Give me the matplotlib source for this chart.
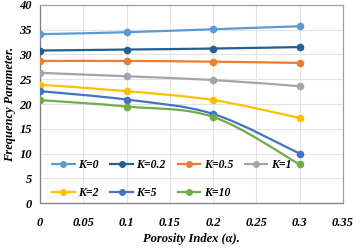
import numpy as np
import matplotlib
matplotlib.use("Agg")
import matplotlib.pyplot as plt
from matplotlib.path import Path
from matplotlib.patches import PathPatch
from matplotlib.lines import Line2D

# data
porosity = [0, 0.1, 0.2, 0.3]
k_labels = ['K=0', 'K=0.2', 'K=0.5', 'K=1', 'K=2', 'K=5', 'K=10']
k0 = [34.1, 34.5, 35.1, 35.7]
k02 = [30.8, 31.0, 31.2, 31.5]
k05 = [28.7, 28.7, 28.55, 28.3]
k1 = [26.3, 25.6, 24.85, 23.6]
k2 = [23.9, 22.6, 20.8, 17.2]
k5 = [22.6, 20.9, 18.0, 10.0]
k10 = [20.8, 19.5, 17.4, 7.8]
series = [k0, k02, k05, k1, k2, k5, k10]
colors = ['#5B9BD5', '#255E91', '#ED7D31', '#A5A5A5', '#FFC000', '#4472C4', '#70AD47']

font = {'family': 'Liberation Serif', 'weight': 'bold', 'style': 'italic'}


def smooth_path(x, y):
    # Excel style smoothed line: cubic bezier through the points
    x = np.asarray(x, float)
    y = np.asarray(y, float)
    n = len(x)
    verts = [(x[0], y[0])]
    codes = [Path.MOVETO]
    for i in range(n - 1):
        x0, y0 = (x[i - 1], y[i - 1]) if i > 0 else (x[i], y[i])
        x3, y3 = (x[i + 2], y[i + 2]) if i + 2 < n else (x[i + 1], y[i + 1])
        c1 = (x[i] + (x[i + 1] - x0) / 6, y[i] + (y[i + 1] - y0) / 6)
        c2 = (x[i + 1] - (x3 - x[i]) / 6, y[i + 1] - (y3 - y[i]) / 6)
        verts += [c1, c2, (x[i + 1], y[i + 1])]
        codes += [Path.CURVE4] * 3
    return Path(verts, codes)


fig = plt.figure(figsize=(3.61, 2.48), dpi=100)
ax = fig.add_axes([0.111, 0.181, 0.839, 0.799])

for vals, c in zip(series, colors):
    ax.add_patch(PathPatch(smooth_path(porosity, vals), facecolor='none',
                           edgecolor=c, lw=1.6, zorder=3))
    ax.plot(porosity, vals, ls='none', marker='o', ms=4.5, color=c, zorder=4)

ax.set_xlim(0, 0.35)
ax.set_ylim(0, 40)
ax.set_xticks(np.arange(0, 0.351, 0.05))
ax.set_xticklabels(['0', '0.05', '0.1', '0.15', '0.2', '0.25', '0.3', '0.35'])
ax.set_yticks(range(0, 41, 5))
for lab in ax.get_xticklabels() + ax.get_yticklabels():
    lab.set_fontproperties(font)
    lab.set_fontsize(9)
ax.tick_params(length=0, pad=10)
ax.tick_params(axis='y', pad=6)
ax.grid(color='#E4E4E4', lw=0.8)
ax.set_axisbelow(True)
for s in ax.spines.values():
    s.set_color('#A0A0A0')
    s.set_linewidth(0.9)
ax.spines['left'].set_color('#7F7F7F')
ax.spines['bottom'].set_color('#7F7F7F')

ax.set_xlabel('Porosity Index (α).', fontsize=9, labelpad=3, **font)
ax.set_ylabel('Frequency Parameter.', fontsize=9, labelpad=2, **font)

# legend filled row by row like the original
handles = [Line2D([], [], color=c, lw=1.6, marker='o', ms=4) for c in colors]
order = [0, 4, 1, 5, 2, 6, 3]
leg = ax.legend([handles[i] for i in order], [k_labels[i] for i in order],
                ncol=4, loc='lower left',
                bbox_to_anchor=(0.005, -0.035), frameon=False,
                prop={'family': 'Liberation Serif', 'weight': 'bold',
                      'style': 'italic', 'size': 8.5},
                handlelength=1.9, columnspacing=1.0, handletextpad=0.3,
                labelspacing=1.4)

fig.savefig('out.png', dpi=100)
